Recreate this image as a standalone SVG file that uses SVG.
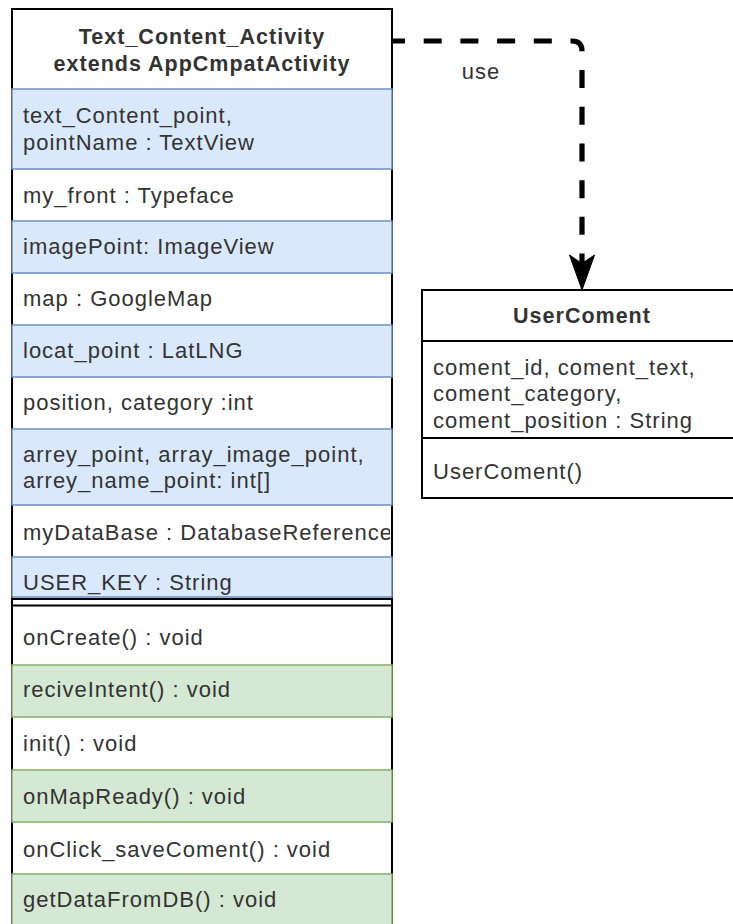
<svg xmlns="http://www.w3.org/2000/svg" width="733" height="924" viewBox="0 0 733 924">
<style>
  text { font-family: "Liberation Sans", Arial, sans-serif; font-size: 22px; fill: #333; letter-spacing: 1px; }
  .b { font-weight: bold; font-size: 21.5px; }
  .c { text-anchor: middle; }
  .box { fill: #fff; stroke: #000; stroke-width: 2; }
  .blue { fill: #dae8fc; stroke: #6c8ebf; stroke-width: 1.5; }
  .green { fill: #d5e8d4; stroke: #82b366; stroke-width: 1.5; }
  .sep { stroke: #000; stroke-width: 2; fill: none; }
  .edge { fill: none; stroke: #000; stroke-width: 5.2; stroke-dasharray: 18 18.7; stroke-dashoffset: 5; }
</style>
<defs>
  <clipPath id="clipMain"><rect x="13" y="9" width="377" height="920"/></clipPath>
</defs>

<g id="Text_Content_Activity">
  <rect class="box" x="12" y="9" width="380" height="925"/>
  <text class="b c" x="202" y="44">Text_Content_Activity</text>
  <text class="b c" x="202" y="71">extends AppCmpatActivity</text>

  <rect class="blue" x="12" y="89" width="380" height="80"/>
  <text x="23" y="123">text_Content_point,</text>
  <text x="23" y="150">pointName : TextView</text>

  <text x="23" y="203">my_front : Typeface</text>

  <rect class="blue" x="12" y="221" width="380" height="52"/>
  <text x="23" y="254">imagePoint: ImageView</text>

  <text x="23" y="306">map : GoogleMap</text>

  <rect class="blue" x="12" y="325" width="380" height="52"/>
  <text x="23" y="358">locat_point : LatLNG</text>

  <text x="23" y="410">position, category :int</text>

  <rect class="blue" x="12" y="429" width="380" height="76"/>
  <text x="23" y="462">arrey_point, array_image_point,</text>
  <text x="23" y="488">arrey_name_point: int[]</text>

  <g clip-path="url(#clipMain)">
    <text x="23" y="540">myDataBase : DatabaseReference</text>
  </g>

  <rect class="blue" x="12" y="557" width="380" height="40"/>
  <text x="23" y="590">USER_KEY : String</text>

  <line class="sep" x1="12" y1="599" x2="392" y2="599"/>
  <line class="sep" x1="12" y1="605.5" x2="392" y2="605.5"/>

  <text x="23" y="645">onCreate() : void</text>

  <rect class="green" x="12" y="665" width="380" height="52"/>
  <text x="23" y="697">reciveIntent() : void</text>

  <text x="23" y="751">init() : void</text>

  <rect class="green" x="12" y="770" width="380" height="52"/>
  <text x="23" y="804">onMapReady() : void</text>

  <text x="23" y="857">onClick_saveComent() : void</text>

  <rect class="green" x="12" y="874" width="380" height="60"/>
  <text x="23" y="907">getDataFromDB() : void</text>
</g>

<g id="UserComent">
  <rect class="box" x="422" y="290" width="330" height="208"/>
  <line class="sep" x1="422" y1="341" x2="752" y2="341"/>
  <line class="sep" x1="422" y1="438" x2="752" y2="438"/>
  <text class="b c" x="582" y="323">UserComent</text>
  <text x="433" y="375">coment_id, coment_text,</text>
  <text x="433" y="401">coment_category,</text>
  <text x="433" y="428">coment_position : String</text>
  <text x="433" y="479">UserComent()</text>
</g>

<g id="connectors">
  <path class="edge" d="M392,41 H572 Q582,41 582,51 V264"/>
  <path d="M582,290 L569.5,255 L582,263.5 L594.5,255 Z" fill="#000" stroke="#000" stroke-width="1"/>
  <text class="c" x="481" y="79">use</text>
</g>
</svg>
